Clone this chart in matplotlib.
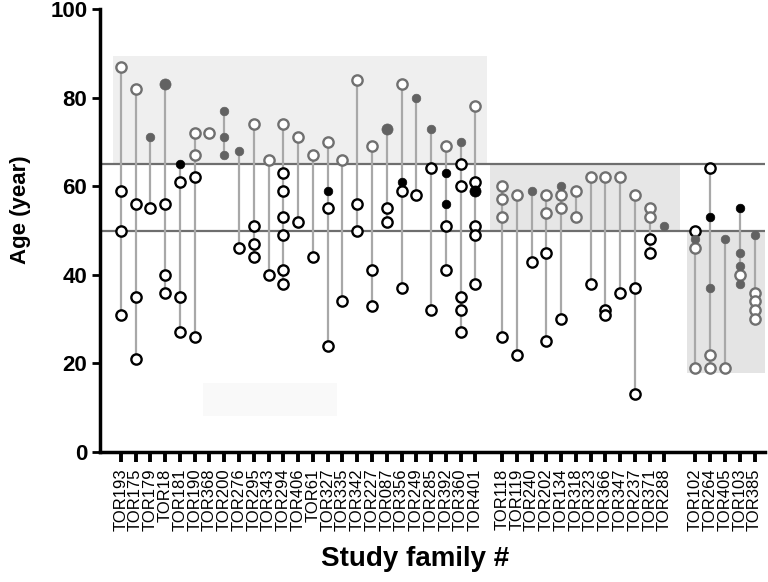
import matplotlib
matplotlib.use("Agg")
import matplotlib.pyplot as plt
from matplotlib.patches import Rectangle

plt.rcParams['font.family'] = ['Liberation Sans', 'DejaVu Sans']

# family names, three groups
group1 = ['TOR193', 'TOR175', 'TOR179', 'TOR18', 'TOR181', 'TOR190', 'TOR368', 'TOR200',
          'TOR276', 'TOR295', 'TOR343', 'TOR294', 'TOR406', 'TOR61', 'TOR327', 'TOR335',
          'TOR342', 'TOR227', 'TOR087', 'TOR356', 'TOR249', 'TOR285', 'TOR392', 'TOR360',
          'TOR401']
group2 = ['TOR118', 'TOR119', 'TOR240', 'TOR202', 'TOR134', 'TOR318', 'TOR323', 'TOR366',
          'TOR347', 'TOR237', 'TOR371', 'TOR288']
group3 = ['TOR102', 'TOR264', 'TOR405', 'TOR103', 'TOR385']

# ages per family, one dict per marker kind
black_open = {
    'TOR193': [59, 50, 31], 'TOR175': [56, 35, 21], 'TOR179': [55], 'TOR18': [56, 40, 36],
    'TOR181': [61, 35, 27], 'TOR190': [62, 26], 'TOR276': [46], 'TOR295': [51, 47, 44],
    'TOR343': [40], 'TOR294': [63, 59, 53, 49, 41, 38], 'TOR406': [52], 'TOR61': [44],
    'TOR327': [55, 24], 'TOR335': [34], 'TOR342': [56, 50], 'TOR227': [41, 33],
    'TOR087': [55, 52], 'TOR356': [59, 37], 'TOR249': [58], 'TOR285': [64, 32],
    'TOR392': [51, 41], 'TOR360': [65, 60, 35, 32, 27], 'TOR401': [61, 51, 49, 38],
    'TOR118': [26], 'TOR119': [22], 'TOR240': [43], 'TOR202': [45, 25], 'TOR134': [30],
    'TOR323': [38], 'TOR366': [32, 31], 'TOR347': [36], 'TOR237': [37, 13],
    'TOR371': [48, 45], 'TOR102': [50], 'TOR264': [64],
}
gray_open = {
    'TOR193': [87], 'TOR175': [82], 'TOR190': [72, 67], 'TOR368': [72], 'TOR295': [74],
    'TOR343': [66], 'TOR294': [74], 'TOR406': [71], 'TOR61': [67], 'TOR327': [70],
    'TOR335': [66], 'TOR342': [84], 'TOR227': [69], 'TOR356': [83], 'TOR392': [69],
    'TOR401': [78], 'TOR118': [60, 57, 53], 'TOR119': [58], 'TOR202': [58, 54],
    'TOR134': [58, 55], 'TOR318': [59, 53], 'TOR323': [62], 'TOR366': [62], 'TOR347': [62],
    'TOR237': [58], 'TOR371': [55, 53], 'TOR102': [46, 19], 'TOR264': [22, 19],
    'TOR405': [19], 'TOR103': [40], 'TOR385': [36, 34, 32, 30],
}
gray_filled = {
    'TOR179': [71], 'TOR200': [77, 71, 67], 'TOR276': [68], 'TOR249': [80], 'TOR285': [73],
    'TOR360': [70], 'TOR240': [59], 'TOR134': [60], 'TOR288': [51], 'TOR102': [48],
    'TOR264': [37], 'TOR405': [48], 'TOR103': [45, 42, 38], 'TOR385': [49],
}
gray_filled_big = {'TOR18': [83], 'TOR087': [73]}
black_filled = {'TOR181': [65], 'TOR327': [59], 'TOR356': [61], 'TOR392': [63, 56],
                'TOR264': [53], 'TOR103': [55]}
black_filled_big = {'TOR401': [59]}

# x positions: groups separated by a gap
pos = {}
for i, f in enumerate(group1):
    pos[f] = i
for i, f in enumerate(group2):
    pos[f] = 25.8 + i
for i, f in enumerate(group3):
    pos[f] = 38.9 + i
families = group1 + group2 + group3

fig = plt.figure(figsize=(7.68, 5.82), dpi=100)
ax = fig.add_axes([0.130, 0.2234, 0.866, 0.7611])
ax.set_xlim(-1.42, 43.6)
ax.set_ylim(0, 100)

# shaded age bands
ax.add_patch(Rectangle((-0.54, 65), 25.3, 24.5, color='#efefef', lw=0, zorder=0))
ax.add_patch(Rectangle((24.97, 50), 12.9, 15, color='#e6e6e6', lw=0, zorder=0))
ax.add_patch(Rectangle((38.35, 17.8), 5.3, 32.2, color='#e4e4e4', lw=0, zorder=0))
ax.add_patch(Rectangle((5.55, 8.1), 9.05, 7.5, color='#f9f9f9', lw=0, zorder=0))

ax.axhline(65, color='#6e6e6e', lw=1.6, zorder=1)
ax.axhline(50, color='#6e6e6e', lw=1.6, zorder=1)

# vertical connector per family
for f in families:
    vals = []
    for d in (black_open, gray_open, gray_filled, gray_filled_big, black_filled, black_filled_big):
        vals += d.get(f, [])
    if len(vals) > 1:
        ax.plot([pos[f], pos[f]], [min(vals), max(vals)], color='#a8a8a8', lw=1.6, zorder=2)

def draw(d, **kw):
    xs, ys = [], []
    for f, vals in d.items():
        for v in vals:
            xs.append(pos[f])
            ys.append(v)
    ax.plot(xs, ys, 'o', linestyle='none', zorder=3, **kw)

draw(black_open, ms=7.4, mfc='white', mec='black', mew=1.7)
draw(gray_open, ms=7.4, mfc='white', mec='#707070', mew=1.7)
draw(gray_filled, ms=6.2, mfc='#626262', mec='#626262', mew=0.5)
draw(gray_filled_big, ms=8, mfc='#626262', mec='#626262', mew=0.5)
draw(black_filled, ms=6.2, mfc='black', mec='black', mew=0.5)
draw(black_filled_big, ms=8, mfc='black', mec='black', mew=0.5)

ax.set_xticks([pos[f] for f in families])
ax.set_xticklabels(families, rotation=90, fontsize=12)
ax.set_yticks([0, 20, 40, 60, 80, 100])
ax.tick_params(axis='y', labelsize=16, width=2, length=6, pad=3)
ax.tick_params(axis='x', width=2.8, length=7, pad=5)
for lab in ax.get_yticklabels():
    lab.set_fontweight('bold')

for s in ('top', 'right'):
    ax.spines[s].set_visible(False)
for s in ('left', 'bottom'):
    ax.spines[s].set_linewidth(2.5)

ax.set_ylabel('Age (year)', fontsize=16, fontweight='bold')
ax.yaxis.set_label_coords(-0.104, 0.546)
ax.set_xlabel('Study family #', fontsize=20, fontweight='bold')
ax.xaxis.set_label_coords(0.474, -0.212)

fig.savefig('out.png', dpi=100)
